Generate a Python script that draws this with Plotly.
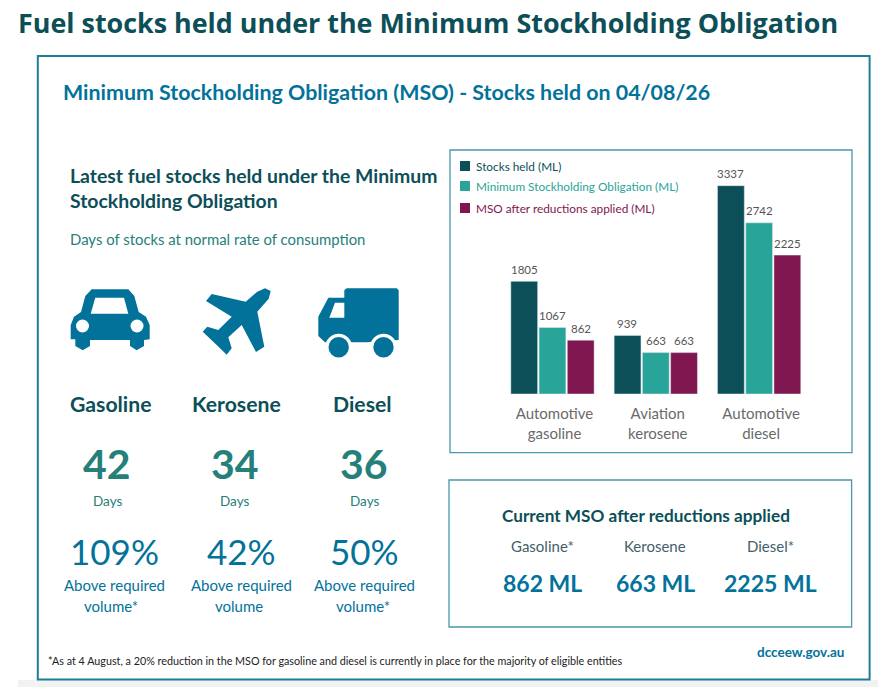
import plotly.graph_objects as go

# data
categories = ['Automotive<br>gasoline', 'Aviation<br>kerosene', 'Automotive<br>diesel']
stocks_held = [1805, 939, 3337]
mso = [1067, 663, 2742]
mso_reduced = [862, 663, 2225]

fuels = ['Gasoline', 'Kerosene', 'Diesel']
days = [42, 34, 36]
above_pct = ['109%', '42%', '50%']
above_note = ['volume*', 'volume', 'volume*']
mso_names = ['Gasoline*', 'Kerosene', 'Diesel*']
mso_labels = ['862 ML', '663 ML', '2225 ML']

# colours
DARK = '#0c4f58'
TEAL = '#29a499'
PLUM = '#7f1650'
BLUE = '#03729b'
GREEN = '#26807a'
FRAME = '#1f7d98'
BOX = '#4a98ad'
GREY = '#555555'

W, H = 878, 687
FONT = 'Lato'

fig = go.Figure()

# bars, value labels sit a bit higher than textposition outside gives
series = [('Stocks held (ML)', stocks_held, DARK),
          ('Minimum Stockholding Obligation (ML)', mso, TEAL),
          ('MSO after reductions applied (ML)', mso_reduced, PLUM)]
for s, (name, vals, col) in enumerate(series):
    fig.add_trace(go.Bar(
        x=categories, y=vals,
        name=name,
        marker=dict(color=col),
        hoverinfo='x+y',
    ))
    for cat, v in zip(categories, vals):
        fig.add_annotation(x=cat, y=v, xref='x', yref='y', text=str(v), showarrow=False,
                           xshift=(s - 1) * 28.4, yshift=12, yanchor='middle',
                           font=dict(size=11.5, color=GREY, family=FONT))

# empty trace so the pixel overlay axes exist
fig.add_trace(go.Scatter(x=[], y=[], xaxis='x2', yaxis='y2', showlegend=False))


def label(x, y, text, size, color, bold=False, anchor='center', family=FONT):
    if bold:
        text = f'<b>{text}</b>'
    fig.add_annotation(x=x, y=y, xref='x2', yref='y2', text=text, showarrow=False,
                       xanchor=anchor, yanchor='middle', align=anchor,
                       font=dict(size=size, color=color, family=family))


def box(x0, y0, x1, y1, color, width=1.3):
    fig.add_shape(type='rect', xref='x2', yref='y2', x0=x0, y0=y0, x1=x1, y1=y1,
                  line=dict(color=color, width=width))


def fill_rect(x0, y0, x1, y1, color):
    fig.add_shape(type='rect', xref='x2', yref='y2', x0=x0, y0=y0, x1=x1, y1=y1,
                  fillcolor=color, line=dict(width=0))


def dot(cx, cy, r, color):
    fig.add_shape(type='circle', xref='x2', yref='y2', x0=cx - r, y0=cy - r, x1=cx + r, y1=cy + r,
                  fillcolor=color, line=dict(width=0))


def poly(points, color):
    # points traced on the 3x zoom of the picture
    path = 'M ' + ' L '.join(f'{x / 3:.1f},{y / 3:.1f}' for x, y in points) + ' Z'
    fig.add_shape(type='path', xref='x2', yref='y2', path=path, fillcolor=color, line=dict(width=0))


# frames
fill_rect(18, 680, 878, 687, '#f1f2f2')
box(37.8, 56, 869.6, 679.5, FRAME, 2)
box(450, 150, 852, 452.7, BOX)
box(449, 480, 851.6, 627, BOX)

# legend, spaced unevenly as in the picture
legend_y = [166, 186, 208]
for (name, vals, col), ly in zip(series, legend_y):
    fill_rect(460, ly - 5, 470, ly + 5, col)
    label(474, ly, name, 11.8, col, False, 'left')

# car
poly([(212, 975), (222, 950), (243, 936), (256, 888), (275, 868), (385, 868), (403, 888),
      (416, 936), (438, 950), (449, 975), (449, 1018), (432, 1020), (432, 1038), (410, 1051),
      (390, 1038), (390, 1020), (270, 1020), (270, 1038), (248, 1051), (226, 1038), (226, 1018), (212, 1018)], BLUE)
poly([(272, 941), (385, 941), (372, 893), (286, 893)], 'white')
dot(82.5, 326, 6.5, 'white')
dot(137, 326, 6.5, 'white')

# plane
poly([(618, 903), (635, 882), (737, 905), (772, 875), (795, 865), (812, 873), (806, 896), (772, 935),
      (793, 1040), (768, 1056), (725, 975), (685, 1012), (695, 1045), (680, 1064), (650, 1035),
      (608, 995), (622, 980), (655, 990), (695, 950)], BLUE)

# truck
poly([(1040, 865), (1190, 865), (1196, 871), (1196, 1020), (1100, 1027), (975, 1027), (955, 1008),
      (955, 950), (985, 893), (1033, 893), (1033, 871)], BLUE)
poly([(1005, 908), (1033, 908), (1033, 953), (988, 953)], 'white')
for cx in (338.7, 383.5):
    dot(cx, 347.3, 13.5, 'white')
    dot(cx, 347.3, 10.2, BLUE)

# headings
label(16, 22, 'Fuel stocks held under the Minimum Stockholding Obligation', 26.9, DARK, True, 'left', 'Open Sans')
label(61, 92, 'Minimum Stockholding Obligation (MSO) - Stocks held on 04/08/26', 21.4, BLUE, True, 'left')
label(68, 175, 'Latest fuel stocks held under the Minimum', 19.4, DARK, True, 'left')
label(68, 200, 'Stockholding Obligation', 19.4, DARK, True, 'left')
label(68, 239, 'Days of stocks at normal rate of consumption', 14.9, GREEN, False, 'left')

# fuel columns
fuel_x = [111, 236.5, 362]
day_x = [107, 234.5, 364]
pct_x = [114, 241, 364]
note_x = [111, 238.5, 363]
for i in range(3):
    label(fuel_x[i], 404, fuels[i], 21.2, DARK, True)
    label(day_x[i], 463.5, str(days[i]), 41, GREEN, True)
    label(day_x[i], 501, 'Days', 13.5, GREEN)
    label(pct_x[i], 550.5, above_pct[i], 35, BLUE)
    label(pct_x[i], 585, 'Above required', 15, BLUE)
    label(note_x[i], 606, above_note[i], 15, BLUE)

# current MSO panel
label(646, 515.5, 'Current MSO after reductions applied', 17.2, DARK, True)
mso_x = [542, 655, 770]
for i in range(3):
    label(mso_x[i], 545.5, mso_names[i], 15, '#44606a')
    label(mso_x[i], 583, mso_labels[i], 23, BLUE, True)

# footer
label(46, 660.5, '*As at 4 August, a 20% reduction in the MSO for gasoline and diesel is currently in place for the majority of eligible entities',
      10.75, '#222222', False, 'left')
label(846, 652, 'dcceew.gov.au', 13.5, BLUE, True, 'right')

fig.update_layout(
    width=W, height=H,
    margin=dict(l=0, r=0, t=0, b=0),
    paper_bgcolor='white',
    plot_bgcolor='rgba(0,0,0,0)',
    font=dict(family=FONT, color=GREY),
    barmode='group',
    bargap=0.18,
    bargroupgap=0.05,
    showlegend=False,
    xaxis=dict(
        domain=[500.8 / W, 810.8 / W], anchor='y', showline=False, showgrid=False, ticks='',
        tickfont=dict(size=15, color='#6a6a6a', family=FONT),
        ticklabelstandoff=9, ticklabelshift=2,
    ),
    yaxis=dict(
        domain=[1 - 394 / H, 1 - 175.5 / H], anchor='x', range=[0, 3500],
        visible=False, showgrid=False, zeroline=False,
    ),
    xaxis2=dict(domain=[0, 1], range=[0, W], anchor='y2', visible=False, fixedrange=True),
    yaxis2=dict(domain=[0, 1], range=[H, 0], anchor='x2', visible=False, fixedrange=True),
)

fig.write_html("out.html", config=dict(displayModeBar=False), post_script="document.body.style.margin='0';")
